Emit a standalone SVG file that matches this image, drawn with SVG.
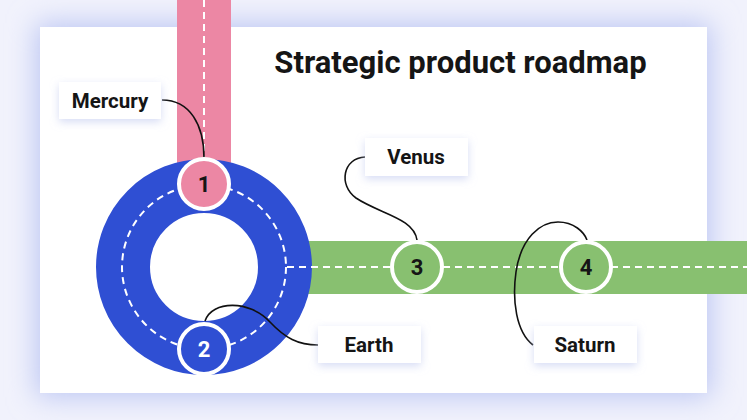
<svg xmlns="http://www.w3.org/2000/svg" width="747" height="420" viewBox="0 0 747 420">
<defs>
<filter id="glow" x="-20%" y="-20%" width="140%" height="140%"><feGaussianBlur stdDeviation="14"/></filter>
<filter id="sh" x="-20%" y="-30%" width="140%" height="170%"><feDropShadow dx="0" dy="3" stdDeviation="4" flood-color="#c5cdf0" flood-opacity="0.7"/></filter>
<style>
.lbl{font-family:Roboto,"Liberation Sans",sans-serif;font-weight:700;font-size:20.5px;fill:#151515;text-anchor:middle}
.num{font-family:Roboto,"Liberation Sans",sans-serif;font-weight:700;font-size:22px;text-anchor:middle}
.box{fill:#fff;filter:url(#sh)}
.dash{fill:none;stroke:#fff;stroke-width:2;stroke-dasharray:7 5}
.con{fill:none;stroke:#111;stroke-width:1.6}
.ring{stroke:#fff;stroke-width:4}
</style>
</defs>
<rect width="747" height="420" fill="#f1f2fc"/>
<rect x="36" y="23" width="675" height="374" fill="#bcc6f3" filter="url(#glow)"/>
<rect x="40" y="27" width="667" height="366" fill="#fff"/>
<text x="460.5" y="73" font-family="Roboto,'Liberation Sans',sans-serif" font-weight="700" font-size="31" fill="#151515" text-anchor="middle">Strategic product roadmap</text>
<g id="tracks">
<rect x="177" y="0" width="54" height="190" fill="#ec87a4"/>
<line x1="204" y1="0" x2="204" y2="160" class="dash"/>
<rect x="290" y="241" width="457" height="53" fill="#88c070"/>
<circle cx="204" cy="267" r="81" fill="none" stroke="#2f4fd3" stroke-width="54"/>
<circle cx="204" cy="267" r="82" class="dash"/>
<line x1="287" y1="267" x2="747" y2="267" class="dash"/>
</g>
<g id="connectors">
<path class="con" d="M162,100 C190,100 204,125 204,158"/>
<path class="con" d="M365,157 C343,158 338,185 356,198 C380,214 414,218 417,240"/>
<path class="con" d="M205,321 C212,300 250,300 270,322 C285,338 298,345 318,345"/>
<path class="con" d="M533,345 C516,332 512,300 516,272 C521,238 540,222 558,222 C574,222 584,232 587,240"/>
</g>
<g id="n1"><circle cx="204" cy="184" r="25" class="ring" fill="#ec87a4"/><text class="num" x="204" y="192" fill="#151515">1</text></g>
<g id="n2"><circle cx="204" cy="349" r="25" class="ring" fill="#2f4fd3"/><text class="num" x="204" y="357" fill="#fff">2</text></g>
<g id="n3"><circle cx="417" cy="267" r="25" class="ring" fill="#88c070"/><text class="num" x="417" y="275" fill="#151515">3</text></g>
<g id="n4"><circle cx="586" cy="267" r="25" class="ring" fill="#88c070"/><text class="num" x="586" y="275" fill="#151515">4</text></g>
<g id="mercury"><rect class="box" x="59" y="82" width="102" height="37"/><text class="lbl" x="110" y="108">Mercury</text></g>
<g id="venus"><rect class="box" x="365" y="138" width="103" height="38"/><text class="lbl" x="416" y="164">Venus</text></g>
<g id="earth"><rect class="box" x="318" y="326" width="103" height="37"/><text class="lbl" x="369" y="352">Earth</text></g>
<g id="saturn"><rect class="box" x="534" y="326" width="103" height="37"/><text class="lbl" x="585" y="352">Saturn</text></g>
</svg>
